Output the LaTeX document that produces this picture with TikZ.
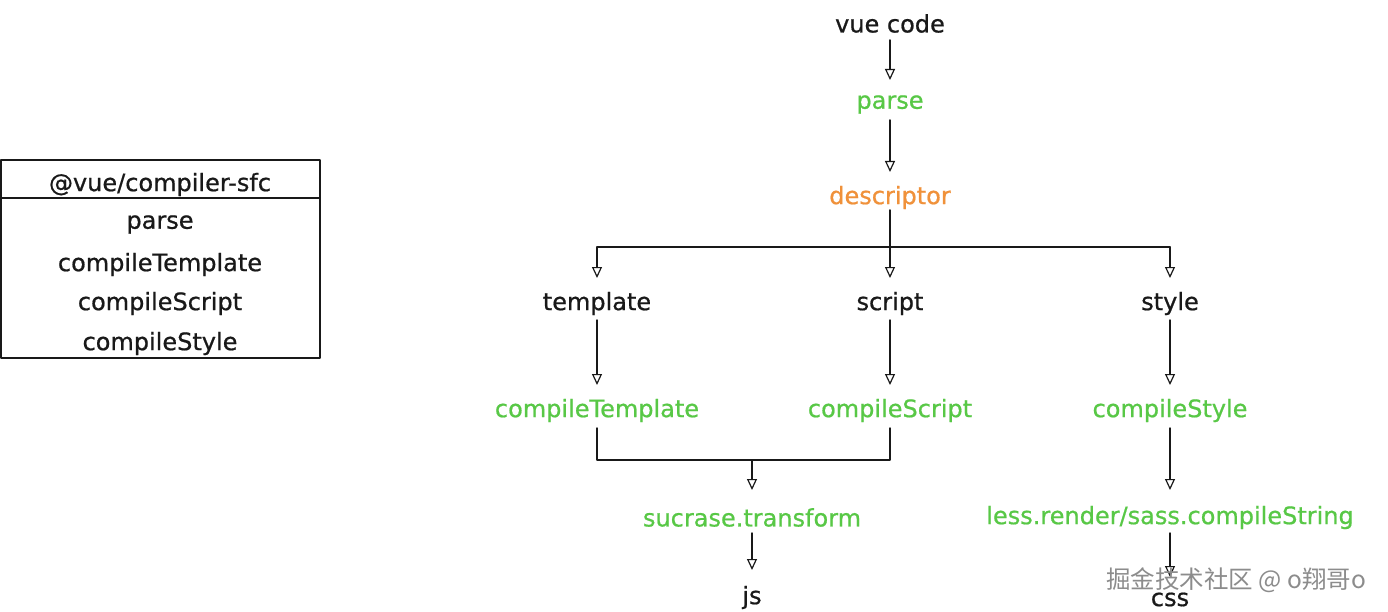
\documentclass[tikz,border=0pt]{standalone}
\usepackage{fontspec}
\setmainfont{DejaVu Sans}[UprightFeatures={FakeBold=0.7}]
\newfontfamily\cjkfont{Noto Sans CJK SC}
\usetikzlibrary{arrows.meta}
\definecolor{fngreen}{RGB}{88,200,70}
\definecolor{fnorange}{RGB}{240,145,58}
\definecolor{inkc}{RGB}{25,25,25}
\tikzset{
  lbl/.style={inner sep=0pt, font=\fontsize{24}{28}\selectfont, text=inkc, anchor=center, yshift=-2.5pt},
  glbl/.style={lbl, text=fngreen},
  olbl/.style={lbl, text=fnorange},
  conn/.style={draw=inkc, line width=1.5pt, line cap=round, line join=round},
  arr/.style={conn, -{Triangle[open,length=11pt,width=10pt,line width=1.2pt]}},
}
\begin{document}
\begin{tikzpicture}[x=1pt,y=-1pt]
\useasboundingbox (0,0) rectangle (1388,612);
\fill[white] (0,0) rectangle (1388,612);

% left box
\draw[conn, line width=1.8pt] (1,160) rectangle (320,358);
\draw[conn, line width=1.8pt] (1,198) -- (320,198);
\node[lbl] (bh) at (160,182) {@vue/compiler-sfc};
\node[lbl] (b1) at (160,222) {parse};
\node[lbl] (b2) at (160,262) {compileTemplate};
\node[lbl] (b3) at (160,301) {compileScript};
\node[lbl] (b4) at (160,341) {compileStyle};

% flow nodes
\node[lbl]  (vue)  at (890,21)  {vue code};
\node[glbl] (prs)  at (890,102) {parse};
\node[olbl] (desc) at (890,195) {descriptor};
\node[lbl]  (tpl)  at (597,301) {template};
\node[lbl]  (scr)  at (890,301) {script};
\node[lbl]  (sty)  at (1170,301) {style};
\node[glbl] (ctpl) at (597,408) {compileTemplate};
\node[glbl] (cscr) at (890,408) {compileScript};
\node[glbl] (csty) at (1170,408) {compileStyle};
\node[glbl] (suc)  at (752,515) {sucrase.transform};
\node[glbl] (less) at (1170,515) {less.render/sass.compileString};
\node[lbl]  (js)   at (752,595) {js};
\node[lbl]  (css)  at (1170,597) {css};

\coordinate (bar1) at (890,247);
\coordinate (bar1l) at (597,247);
\coordinate (bar1r) at (1170,247);
\coordinate (bar2) at (752,460);
\coordinate (bar2l) at (597,460);
\coordinate (bar2r) at (890,460);

% connectors
\draw[arr] (vue.south |- 0,40) -- (prs.north |- 0,80);
\draw[arr] (prs.south |- 0,120) -- (desc.north |- 0,172);
\draw[conn] (desc.south |- 0,210) -- (bar1);
\draw[conn] (bar1l) -- (bar1r);
\draw[arr] (bar1l) -- (tpl.north |- 0,278);
\draw[arr] (bar1) -- (scr.north |- 0,278);
\draw[arr] (bar1r) -- (sty.north |- 0,278);
\draw[arr] (tpl.south |- 0,320) -- (ctpl.north |- 0,385);
\draw[arr] (scr.south |- 0,320) -- (cscr.north |- 0,385);
\draw[arr] (sty.south |- 0,320) -- (csty.north |- 0,385);
\draw[conn] (ctpl.south |- 0,428) -- (bar2l) -- (bar2r) -- (cscr.south |- 0,428);
\draw[arr] (bar2) -- (suc.north |- 0,490);
\draw[arr] (csty.south |- 0,428) -- (less.north |- 0,490);
\draw[arr] (suc.south |- 0,533) -- (js.north |- 0,570);
\draw[arr] (less.south |- 0,533) -- (css.north |- 0,577);

% watermark
\node[inner sep=0pt, anchor=center, text=black!45, font=\cjkfont\fontsize{24.5}{27}\selectfont] (wm) at (1236,580) {掘金技术社区 @ o翔哥o};
\end{tikzpicture}
\end{document}
